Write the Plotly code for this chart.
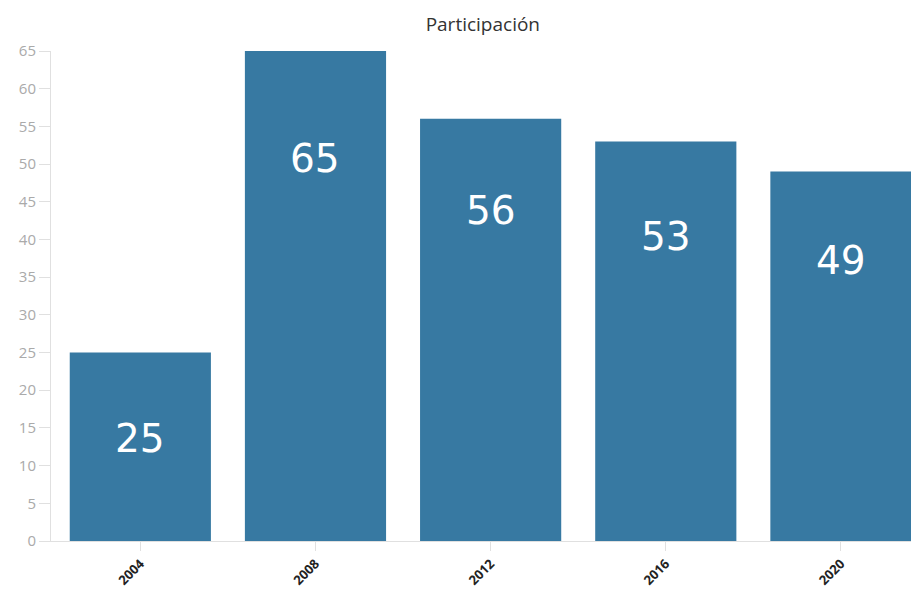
import plotly.graph_objects as go

years = ["2004", "2008", "2012", "2016", "2020"]
values = [25, 65, 56, 53, 49]
title_text = "Participación"

# label offsets below bar tops (pixels), a styling choice
label_shift = [-86, -107, -92, -95, -89]

bar_color = "#3779a2"

fig = go.Figure()
fig.add_trace(go.Bar(
    x=years, y=values,
    marker=dict(color=bar_color, line=dict(width=0)),
    hoverinfo="x+y",
))

for i, (v, s) in enumerate(zip(values, label_shift)):
    fig.add_annotation(
        x=i, y=v, xref="x", yref="y", text=str(v), showarrow=False,
        yanchor="middle", yshift=s,
        font=dict(family="DejaVu Sans", size=39, color="white"),
    )

fig.update_layout(
    width=911, height=589,
    margin=dict(l=51, r=0, t=51, b=48),
    paper_bgcolor="white", plot_bgcolor="white",
    bargap=0.194,
    showlegend=False,
    title=dict(text=title_text, x=0.53, xanchor="center", y=1 - 24 / 589, yanchor="middle",
               yref="container",
               font=dict(family="Open Sans", size=19, color="#333333")),
    font=dict(family="Open Sans"),
    xaxis=dict(
        type="category", range=[-0.51, 4.40], automargin=False,
        showline=True, linecolor="#e0e0e0", linewidth=1,
        ticks="outside", ticklen=9, tickcolor="#e0e0e0",
        tickangle=-45, showgrid=False, zeroline=False,
        tickfont=dict(family="Open Sans", size=13, color="#222222", weight="bold"),
    ),
    yaxis=dict(
        range=[0, 65], dtick=5, tick0=0, automargin=False,
        showline=True, linecolor="#e0e0e0", linewidth=1,
        ticks="outside", ticklen=11, tickcolor="#e0e0e0",
        ticklabelstandoff=0,
        showgrid=False, zeroline=False,
        tickfont=dict(family="Open Sans", size=15, color="#aaaaaa"),
    ),
)

fig.write_html(
    "out.html",
    config={"displayModeBar": False},
    post_script="document.body.style.margin='0';document.body.style.overflow='hidden';",
)
